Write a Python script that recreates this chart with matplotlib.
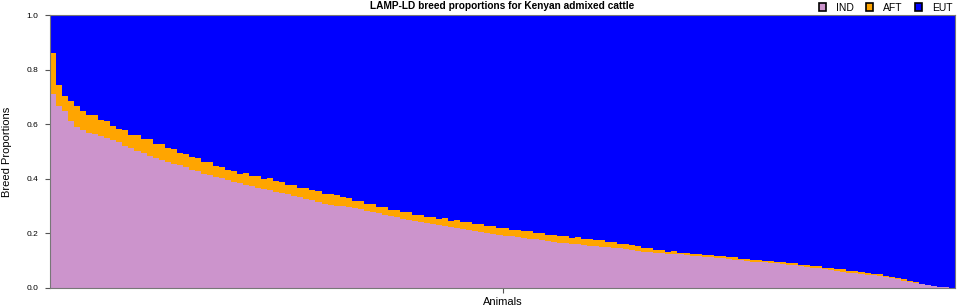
import numpy as np
import matplotlib
matplotlib.use("Agg")
import matplotlib.pyplot as plt
from matplotlib.patches import Patch

plt.rcParams['font.family'] = ['Liberation Sans', 'DejaVu Sans']

ind = [0.710, 0.665, 0.650, 0.610, 0.588, 0.578, 0.569, 0.563, 0.557, 0.549,
       0.541, 0.533, 0.521, 0.511, 0.502, 0.493, 0.485, 0.477, 0.469, 0.462,
       0.455, 0.449, 0.442, 0.434, 0.427, 0.419, 0.413, 0.408, 0.402, 0.395,
       0.388, 0.383, 0.378, 0.373, 0.368, 0.363, 0.358, 0.353, 0.348, 0.343,
       0.338, 0.333, 0.327, 0.321, 0.314, 0.309, 0.305, 0.302, 0.299, 0.296,
       0.293, 0.288, 0.283, 0.278, 0.273, 0.269, 0.264, 0.259, 0.254, 0.250,
       0.245, 0.241, 0.237, 0.233, 0.229, 0.226, 0.222, 0.219, 0.215, 0.212,
       0.208, 0.205, 0.201, 0.198, 0.195, 0.192, 0.189, 0.186, 0.184, 0.181,
       0.178, 0.175, 0.171, 0.168, 0.166, 0.164, 0.162, 0.160, 0.157, 0.155,
       0.153, 0.151, 0.149, 0.147, 0.145, 0.142, 0.139, 0.136, 0.133, 0.131,
       0.129, 0.127, 0.126, 0.125, 0.123, 0.121, 0.119, 0.117, 0.115, 0.113,
       0.111, 0.109, 0.106, 0.104, 0.101, 0.099, 0.097, 0.096, 0.094, 0.092,
       0.090, 0.088, 0.085, 0.083, 0.080, 0.077, 0.075, 0.072, 0.068, 0.065,
       0.062, 0.058, 0.056, 0.054, 0.051, 0.049, 0.047, 0.044, 0.040, 0.036,
       0.032, 0.027, 0.022, 0.017, 0.013, 0.010, 0.007, 0.004, 0.002, 0.000]

aft = [0.150, 0.080, 0.055, 0.075, 0.080, 0.072, 0.066, 0.071, 0.058, 0.062,
       0.052, 0.050, 0.056, 0.048, 0.057, 0.054, 0.060, 0.052, 0.058, 0.050,
       0.054, 0.046, 0.050, 0.045, 0.051, 0.044, 0.047, 0.040, 0.043, 0.036,
       0.041, 0.035, 0.042, 0.037, 0.041, 0.038, 0.044, 0.038, 0.041, 0.035,
       0.039, 0.034, 0.040, 0.037, 0.043, 0.036, 0.041, 0.039, 0.033, 0.032,
       0.026, 0.030, 0.025, 0.029, 0.023, 0.027, 0.023, 0.028, 0.024, 0.027,
       0.023, 0.026, 0.024, 0.028, 0.025, 0.029, 0.025, 0.030, 0.026, 0.031,
       0.028, 0.031, 0.027, 0.030, 0.025, 0.028, 0.024, 0.027, 0.023, 0.026,
       0.024, 0.028, 0.024, 0.027, 0.023, 0.026, 0.022, 0.025, 0.022, 0.026,
       0.021, 0.024, 0.020, 0.022, 0.018, 0.021, 0.017, 0.018, 0.013, 0.014,
       0.010, 0.011, 0.007, 0.009, 0.007, 0.009, 0.006, 0.008, 0.006, 0.009,
       0.006, 0.008, 0.006, 0.008, 0.006, 0.008, 0.005, 0.007, 0.004, 0.006,
       0.004, 0.006, 0.005, 0.007, 0.005, 0.007, 0.005, 0.008, 0.007, 0.009,
       0.008, 0.011, 0.008, 0.009, 0.006, 0.007, 0.005, 0.007, 0.005, 0.006,
       0.005, 0.006, 0.004, 0.005, 0.003, 0.002, 0.002, 0.001, 0.000, 0.000]

series_names = ["IND", "AFT", "EUT"]
colors = ["#CC94CC", "#FFA500", "#0000FF"]

ind = np.array(ind)
aft = np.array(aft)
eut = 1.0 - ind - aft
n = len(ind)
x = np.arange(n)

fig = plt.figure(figsize=(9.57, 3.08), dpi=100)
ax = fig.add_axes([50/957, 1-288/308, 905/957, 273/308])

ax.bar(x, ind, width=1.0, color=colors[0], linewidth=0)
ax.bar(x, aft, width=1.0, bottom=ind, color=colors[1], linewidth=0)
ax.bar(x, eut, width=1.0, bottom=ind + aft, color=colors[2], linewidth=0)

ax.set_xlim(-0.5, n - 0.5)
ax.set_ylim(0, 1.0)
ax.set_yticks([0.0, 0.2, 0.4, 0.6, 0.8, 1.0])
ax.set_yticklabels(["0.0", "0.2", "0.4", "0.6", "0.8", "1.0"])
ax.set_xticks([(n - 1) / 2])
ax.set_xticklabels([""])
ax.tick_params(axis='both', length=3.6, width=0.8, color='#555555', labelsize=6, pad=5)
for s in ax.spines.values():
    s.set_color('#777777')
    s.set_linewidth(0.8)

ax.set_ylabel("Breed Proportions", fontsize=8)
ax.yaxis.set_label_coords((12 - 50) / 905, 0.5)
ax.set_xlabel("Animals", fontsize=8)
ax.xaxis.set_label_coords(0.5, -(297 - 288) / 273)
ax.set_title("LAMP-LD breed proportions for Kenyan admixed cattle", fontsize=7.3,
             fontweight='bold', pad=4)

handles = [Patch(facecolor=c, edgecolor='black', linewidth=1.2) for c in colors]
fig.legend(handles, series_names, loc='upper right', bbox_to_anchor=(955/957, 1.0),
           ncol=3, frameon=False, fontsize=7.5, handlelength=0.7, handleheight=0.7,
           handletextpad=0.95, columnspacing=1.15, borderaxespad=0.0, borderpad=0.25)

fig.savefig("out.png", dpi=100)
